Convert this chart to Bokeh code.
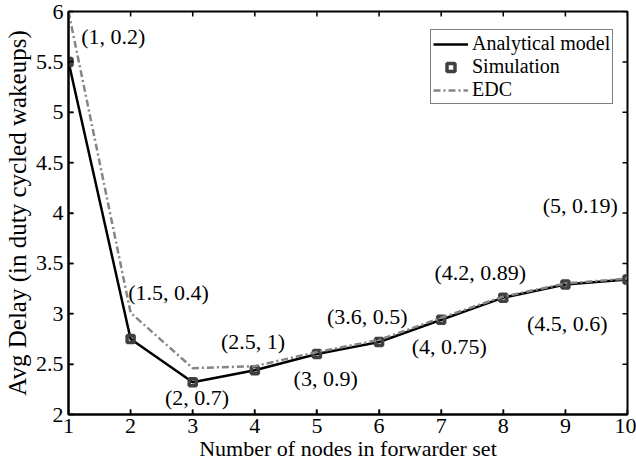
from bokeh.plotting import figure
from bokeh.models import (Range1d, FixedTicker, Legend, LegendItem, ColumnDataSource)
from bokeh.core.properties import value
from bokeh.embed import file_html
from bokeh.resources import INLINE

# ---- data ----
nodes = [1, 2, 3, 4, 5, 6, 7, 8, 9, 10]
analytical = [5.50, 2.75, 2.32, 2.44, 2.60, 2.72, 2.94, 3.16, 3.29, 3.34]
simulation = [5.50, 2.75, 2.32, 2.44, 2.60, 2.72, 2.94, 3.16, 3.29, 3.34]
edc = [6.00, 3.01, 2.46, 2.48, 2.62, 2.74, 2.96, 3.17, 3.30, 3.35]

ann_text = ["(1, 0.2)", "(1.5, 0.4)", "(2, 0.7)", "(2.5, 1)", "(3, 0.9)",
            "(3.6, 0.5)", "(4, 0.75)", "(4.2, 0.89)", "(4.5, 0.6)", "(5, 0.19)"]
ann_x = [1.72, 2.61, 3.07, 3.97, 5.14, 5.81, 7.13, 7.63, 9.03, 9.24]
ann_y = [5.75, 3.21, 2.17, 2.72, 2.36, 2.97, 2.67, 3.41, 2.90, 4.07]

x_ticks = [1, 2, 3, 4, 5, 6, 7, 8, 9, 10]
y_ticks = [2, 2.5, 3, 3.5, 4, 4.5, 5, 5.5, 6]
x_min, x_max = 1, 10
y_min, y_max = 2, 6

FONT = "Liberation Serif"
W, H = 636, 464
BL, BR, BT, BB = 68, 9, 11, 50
TICK = 5  # tick length in px

p = figure(width=W, height=H, output_backend="svg", toolbar_location=None,
           x_range=Range1d(x_min, x_max), y_range=Range1d(y_min, y_max),
           min_border_left=BL, min_border_right=BR, min_border_top=BT,
           min_border_bottom=BB)
p.background_fill_color = None
p.border_fill_color = "white"
p.grid.visible = False
p.outline_line_color = "black"
p.outline_line_width = 2

for ax in (p.xaxis[0], p.yaxis[0]):
    ax.major_tick_in = TICK
    ax.major_tick_out = 0
    ax.minor_tick_in = 0
    ax.minor_tick_out = 0
    ax.axis_line_width = 2
    ax.major_tick_line_width = 1.5
    ax.major_tick_line_color = "black"
    ax.major_label_text_font = FONT
    ax.major_label_text_font_size = "22px"
    ax.major_label_text_color = "black"
    ax.axis_label_text_font = FONT
    ax.axis_label_text_font_style = "normal"
    ax.axis_label_text_color = "black"

p.xaxis[0].ticker = FixedTicker(ticks=x_ticks)
p.yaxis[0].ticker = FixedTicker(ticks=y_ticks)
p.xaxis[0].axis_label = "Number of nodes in forwarder set"
p.yaxis[0].axis_label = "Avg Delay (in duty cycled wakeups)"
p.xaxis[0].axis_label_text_font_size = "22px"
p.yaxis[0].axis_label_text_font_size = "25px"
p.xaxis[0].major_label_standoff = 4
p.xaxis[0].axis_label_standoff = 0
p.yaxis[0].major_label_standoff = 5
p.yaxis[0].axis_label_standoff = 2

# inward tick marks on all four frame edges, drawn as glyphs
dx = TICK * (x_max - x_min) / (W - BL - BR)
dy = TICK * (y_max - y_min) / (H - BT - BB)
nx, ny = len(x_ticks), len(y_ticks)
p.segment(x0=x_ticks, y0=[y_max] * nx, x1=x_ticks, y1=[y_max - dy] * nx,
          line_color="black", line_width=1.5)
p.segment(x0=x_ticks, y0=[y_min] * nx, x1=x_ticks, y1=[y_min + dy] * nx,
          line_color="black", line_width=1.5)
p.segment(x0=[x_max] * ny, y0=y_ticks, x1=[x_max - dx] * ny, y1=y_ticks,
          line_color="black", line_width=1.5)
p.segment(x0=[x_min] * ny, y0=y_ticks, x1=[x_min + dx] * ny, y1=y_ticks,
          line_color="black", line_width=1.5)

src = ColumnDataSource(dict(x=nodes, a=analytical, s=simulation, e=edc))

r_a = p.line("x", "a", source=src, line_color="black", line_width=2.5)
r_s = p.scatter("x", "s", source=src, marker="square", size=7,
                fill_color="white", fill_alpha=0.0, line_color="#404040", line_width=3.5)
r_e = p.line("x", "e", source=src, line_color="#858585", line_width=2.5,
             line_dash="7 3 2 3")

# legend proxy for simulation (white center)
r_s_leg = p.scatter([-10], [-10], marker="square", size=7, fill_color="white",
                    line_color="#404040", line_width=3.5)

ann_src = ColumnDataSource(dict(x=ann_x, y=ann_y, t=ann_text))
p.text("x", "y", text="t", source=ann_src, text_font=value(FONT),
       text_font_size="22px", text_align="center", text_baseline="middle",
       text_color="black")

legend = Legend(items=[LegendItem(label="Analytical model", renderers=[r_a]),
                       LegendItem(label="Simulation", renderers=[r_s_leg]),
                       LegendItem(label="EDC", renderers=[r_e])],
                location=(362, 310))
legend.label_text_font = FONT
legend.label_text_font_size = "20px"
legend.label_text_color = "black"
legend.border_line_color = "black"
legend.border_line_width = 1.5
legend.background_fill_color = "white"
legend.background_fill_alpha = 1.0
legend.glyph_width = 35
legend.glyph_height = 20
legend.label_height = 20
legend.spacing = 0
legend.padding = 2
legend.margin = 0
legend.label_standoff = 4
p.add_layout(legend, "center")

open("out.html", "w").write(file_html(p, INLINE))
